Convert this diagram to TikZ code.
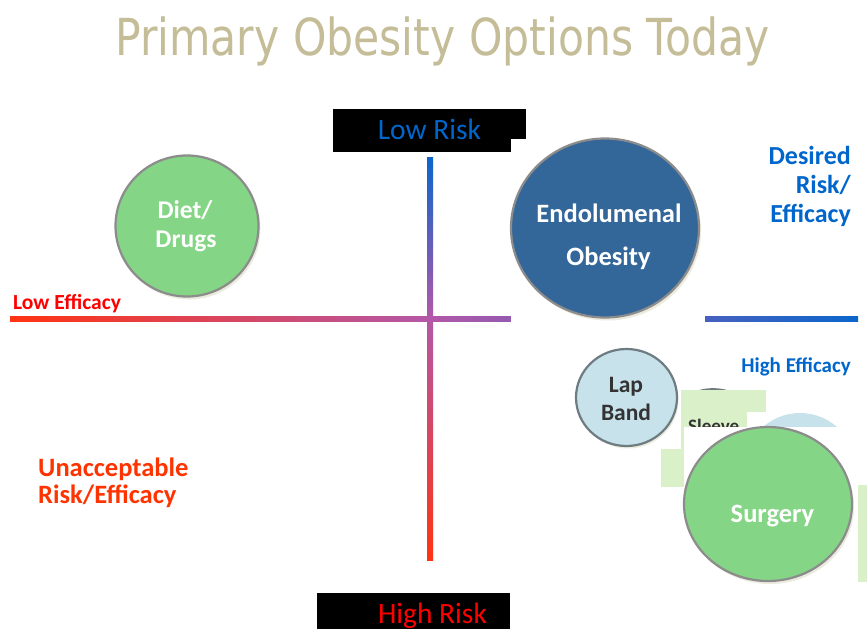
\documentclass[tikz,border=0pt]{standalone}
\usepackage{fontspec}
\setmainfont{Carlito}
\newfontfamily\titlefont{DejaVu Sans}
\usetikzlibrary{shapes.geometric}

\definecolor{titleTan}{HTML}{C4BD97}
\definecolor{riskBlue}{HTML}{0066CC}
\definecolor{riskRed}{HTML}{FF0000}
\definecolor{warnRed}{HTML}{FF3300}
\definecolor{axisRed}{HTML}{FF3311}
\definecolor{axisPurple}{HTML}{B358A8}
\definecolor{axisBlue}{HTML}{0A66CC}
\definecolor{greenFill}{HTML}{84D585}
\definecolor{navyFill}{HTML}{336699}
\definecolor{paleBlue}{HTML}{C8E2EC}
\definecolor{paleGreen}{HTML}{D9F0C8}
\definecolor{rimGray}{HTML}{8C8C8C}
\definecolor{rimDark}{HTML}{6E7C82}
\definecolor{shadowTan}{HTML}{ECEBDF}
\definecolor{inkDark}{HTML}{333333}

\begin{document}
\begin{tikzpicture}[x=1pt,y=-1pt,
  disc/.style={ellipse, draw=rimGray, line width=2.2pt, inner sep=0pt},
  halo/.style={ellipse, fill=shadowTan, inner sep=0pt},
  lbl/.style={inner sep=0pt, anchor=base},
  boldlbl/.style={lbl, font=\bfseries\fontsize{#1}{#1}\selectfont},
  plainlbl/.style={lbl, font=\fontsize{#1}{#1}\selectfont},
  blackbar/.style={fill=black, inner sep=0pt, anchor=north west}]

\useasboundingbox[fill=white] (0,0) rectangle (867,629);

% heading
\node[lbl, text=titleTan] (title) at (442.5,55)
  {\titlefont\fontsize{51}{60}\selectfont\scalebox{0.834}[1]{Primary Obesity Options Today}};

% risk / efficacy axes, each in two graded halves meeting at the crossing
\shade[left color=axisRed, right color=axisPurple] (10,316.5) rectangle (430,321.5);
\shade[left color=axisPurple, right color=axisBlue] (430,316.5) rectangle (858,321.5);
\shade[top color=axisBlue, bottom color=axisPurple] (427,157) rectangle (433,319);
\shade[top color=axisPurple, bottom color=axisRed] (427,319) rectangle (433,560);

% axis end captions on black bars
\node[blackbar, minimum width=193, minimum height=43] (lowbar) at (333,109) {};
\node[plainlbl=29.5, text=riskBlue] (lowrisk) at (429.5,139) {Low Risk};
\node[blackbar, minimum width=193, minimum height=36] (highbar) at (317,593) {};
\node[plainlbl=29.5, text=riskRed] (highrisk) at (432.5,623) {High Risk};

% diet / drugs
\node[halo, minimum width=143, minimum height=141] (dietshadow) at (189,229) {};
\node[disc, fill=greenFill, minimum width=143, minimum height=141] (diet) at (187,226) {};
\node[boldlbl=25.5, text=white] (diet1) at (185,218) {Diet/};
\node[boldlbl=25.5, text=white] (diet2) at (186,247) {Drugs};

% endolumenal obesity, on its own white panel
\fill[white] (511,139) rectangle (705,326);
\node[halo, minimum width=188, minimum height=179] (endoshadow) at (607,231) {};
\node[disc, fill=navyFill, minimum width=188, minimum height=179] (endo) at (605,228) {};
\node[boldlbl=26.5, text=white] (endo1) at (609,222) {Endolumenal};
\node[boldlbl=26.5, text=white] (endo2) at (608.5,265) {Obesity};

% quadrant captions
\node[boldlbl=26, text=riskBlue, anchor=base east] (des1) at (851,164) {Desired};
\node[boldlbl=26, text=riskBlue, anchor=base east] (des2) at (851,193) {Risk/};
\node[boldlbl=26, text=riskBlue, anchor=base east] (des3) at (851,222) {Efficacy};
\node[boldlbl=21, text=riskBlue, anchor=base east] (higheff) at (851,372) {High Efficacy};
\node[boldlbl=21.5, text=riskRed, anchor=base west] (loweff) at (13,309) {Low Efficacy};
\node[boldlbl=26.5, text=warnRed, anchor=base west] (unacc1) at (38,476) {Unacceptable};
\node[boldlbl=26.5, text=warnRed, anchor=base west] (unacc2) at (38,503) {Risk/Efficacy};

% surgical options cluster
\fill[paleBlue] (800,469) circle (56);
\begin{scope}
  \clip (698,380) rectangle (730,390.5);
  \draw[rimDark, line width=1.8pt] (713,440) circle (51);
\end{scope}
\fill[paleGreen] (681,390) rectangle (766,412);
\fill[paleGreen] (681,412) rectangle (747,449);
\fill[paleGreen] (661,449) rectangle (684,487);
\node[boldlbl=19, text=inkDark, anchor=base west] (sleeve) at (688,432) {Sleeve};

\node[halo, minimum width=101, minimum height=97] (lapshadow) at (628,400) {};
\node[disc, draw=rimDark, fill=paleBlue, minimum width=101, minimum height=97] (lap) at (626.5,397.5) {};
\node[boldlbl=23.5, text=inkDark] (lap1) at (626,392) {Lap};
\node[boldlbl=23.5, text=inkDark] (lap2) at (626,420) {Band};

\fill[white] (684,427) rectangle (858,592);
\node[halo, minimum width=168, minimum height=154] (surgshadow) at (770,507) {};
\node[disc, fill=greenFill, minimum width=168, minimum height=154] (surgery) at (768,504) {};
\node[boldlbl=26.5, text=white] (surg1) at (772.5,522) {Surgery};
\fill[paleGreen] (858,485) rectangle (867,582);

\end{tikzpicture}
\end{document}
